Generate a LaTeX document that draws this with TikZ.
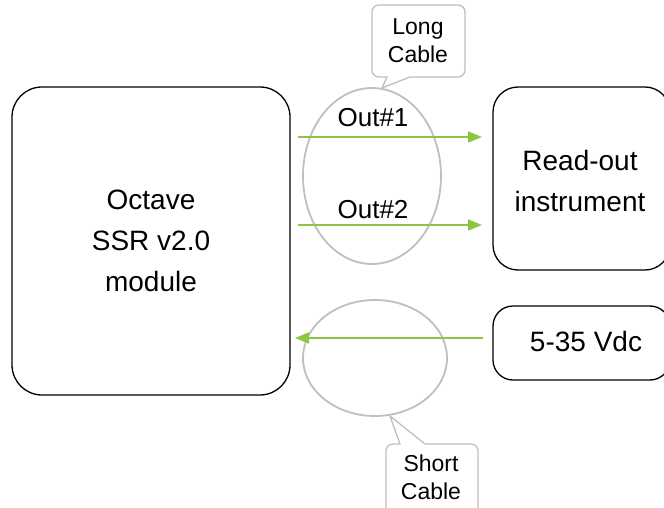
\documentclass[tikz,border=0pt]{standalone}
\usepackage{fontspec}
\setmainfont{Liberation Sans}
\usetikzlibrary{arrows.meta,shapes.geometric}
\definecolor{cgreen}{HTML}{8DC63F}
\definecolor{cgray}{HTML}{BFBFBF}
\begin{document}
\begin{tikzpicture}[x=1pt,y=-1pt,
  box/.style={draw=black, line width=1.3pt, align=center, inner sep=0pt, outer sep=0pt},
  bigtext/.style={font=\fontsize{28}{41}\selectfont},
  cable/.style={ellipse, draw=cgray, line width=1.8pt, inner sep=0pt, outer sep=0pt},
  outlab/.style={font=\fontsize{26}{30}\selectfont, inner sep=0pt},
  callout/.style={draw=cgray, line width=1.3pt, fill=white},
  calltext/.style={font=\fontsize{23}{28}\selectfont, align=center, inner sep=0pt},
  arr/.style={draw=cgreen, line width=1.5pt, -{Triangle[length=14pt,width=11pt]}}]
\useasboundingbox (0,0) rectangle (664,508);
\clip (0,0) rectangle (664,508);
\fill[white] (0,0) rectangle (664,508);

% boxes
\node[box, bigtext, rounded corners=30pt, minimum width=278pt, minimum height=308pt] (oct) at (151,241) {Octave\\SSR v2.0\\module};
\node[box, rounded corners=25pt, minimum width=177pt, minimum height=183pt] (ro) at (581.5,178.5) {};
\node[bigtext, align=center, inner sep=0pt] (rotext) at (580,181) {Read-out\\instrument};
\node[box, rounded corners=20pt, minimum width=177pt, minimum height=74pt] (vdc) at (581.5,343) {};
\node[bigtext, inner sep=0pt, anchor=base] (vdctext) at (586,351) {5-35 Vdc};

% cables
\node[cable, minimum width=138pt, minimum height=176pt] (e1) at (372,176) {};
\node[cable, minimum width=144pt, minimum height=116pt] (e2) at (375,358) {};

% labels
\node[outlab, anchor=base] (o1) at (373,127) {Out\#1};
\node[outlab, anchor=base] (o2) at (373,218) {Out\#2};

% arrows
\coordinate (y1) at (0,137);
\coordinate (y2) at (0,225);
\coordinate (y3) at (0,338);
\draw[arr, shorten <=8pt, shorten >=11pt] (oct.east|-y1) -- (ro.west|-y1);
\draw[arr, shorten <=8pt, shorten >=11pt] (oct.east|-y2) -- (ro.west|-y2);
\draw[arr, shorten <=10pt, shorten >=5pt] (vdc.west|-y3) -- (oct.east|-y3);

% callouts
\draw[callout] (387,77) [rounded corners=7pt] -- (372,77) -- (372,5) -- (465,5) -- (465,77) [sharp corners] -- (410,77) -- (382,88) -- cycle;
\node[calltext] (lc) at (418,41) {Long\\Cable};
\draw[callout] (425,444) [rounded corners=7pt] -- (478,444) -- (478,530) -- (386,530) -- (386,444) [sharp corners] -- (400,444) -- (390,416) -- cycle;
\node[calltext] (sc) at (431,477) {Short\\Cable};
\end{tikzpicture}
\end{document}
